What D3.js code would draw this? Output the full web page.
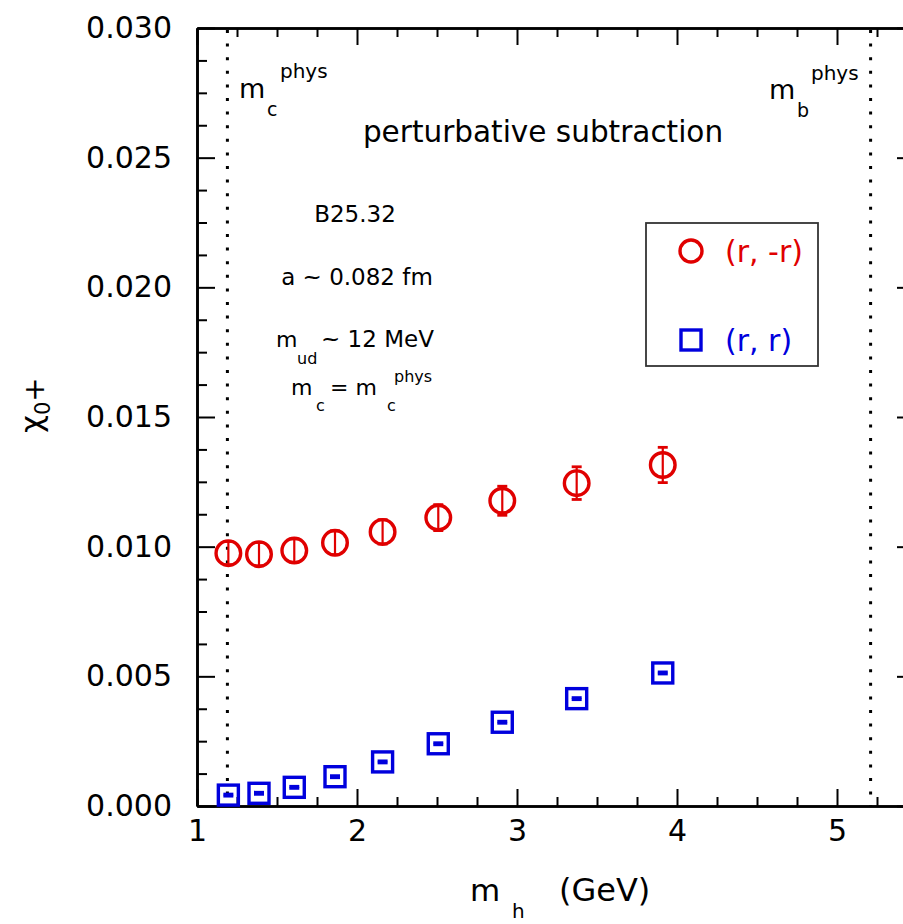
<!DOCTYPE html>
<html><head><meta charset="utf-8">
<script src="https://cdn.jsdelivr.net/npm/d3@7"></script>
<style>
html,body{margin:0;padding:0;background:#fff;}
text{font-family:"DejaVu Sans",sans-serif;fill:#000;}
</style></head>
<body>
<svg id="c" width="903" height="924"></svg>
<script>
// ---- data ----
const mh = [1.196, 1.3875, 1.608, 1.8625, 2.16, 2.508, 2.908, 3.373, 3.911];
const chiRminusR = [0.00975, 0.00971, 0.00985, 0.01015, 0.01057, 0.01112, 0.01177, 0.01245, 0.01315];
const errRminusR = [0.00045, 0.00045, 0.00045, 0.00046, 0.00047, 0.0005, 0.00056, 0.00063, 0.00068];
const chiRR = [0.00042, 0.00049, 0.00072, 0.00113, 0.0017, 0.0024, 0.00323, 0.00414, 0.00513];
const errRR = [0.00004, 0.00004, 0.00004, 0.00004, 0.00004, 0.00004, 0.00004, 0.00004, 0.00004];
const xMajor = [1, 2, 3, 4, 5];
const yMajor = [0, 0.005, 0.01, 0.015, 0.02, 0.025, 0.03];
const yTickLabels = ["0.000", "0.005", "0.010", "0.015", "0.020", "0.025", "0.030"];
const mcPhys = 1.19, mbPhys = 5.21;
const legendLabels = ["(r, -r)", "(r, r)"];
const seriesColors = ["#e00000", "#0000dd"];

// ---- layout ----
const L = 197, R = 917, T = 28, B = 806;
const x = d3.scaleLinear().domain([1, 5.5]).range([L, R]);
const y = d3.scaleLinear().domain([0, 0.03]).range([B, T]);
const svg = d3.select("#c");

const xMinor = d3.range(1, 5.51, 0.25).filter(v => Math.abs(v - Math.round(v)) > 1e-6);
const yMinor = d3.range(0, 0.03001, 0.00125).filter(v => Math.abs(v / 0.005 - Math.round(v / 0.005)) > 1e-6);

function styleAxis(g) {
  g.selectAll("path.domain").attr("stroke", "#000").attr("stroke-width", 2.6);
  g.selectAll(".tick line").attr("stroke", "#000").attr("stroke-width", 2);
  g.selectAll(".tick text").style("font-family", '"DejaVu Sans",sans-serif').style("font-size", "30px").attr("fill", "#000");
}

// bottom
svg.append("g").attr("transform", `translate(0,${B})`)
  .call(d3.axisBottom(x).tickValues(xMinor).tickFormat("").tickSizeInner(-9).tickSizeOuter(0)).call(styleAxis);
svg.append("g").attr("transform", `translate(0,${B})`)
  .call(d3.axisBottom(x).tickValues(xMajor).tickFormat(d3.format("d")).tickSizeInner(-17).tickSizeOuter(0).tickPadding(14)).call(styleAxis);
// top
svg.append("g").attr("transform", `translate(0,${T})`)
  .call(d3.axisTop(x).tickValues(xMinor).tickFormat("").tickSizeInner(-9).tickSizeOuter(0)).call(styleAxis);
svg.append("g").attr("transform", `translate(0,${T})`)
  .call(d3.axisTop(x).tickValues(xMajor).tickFormat("").tickSizeInner(-17).tickSizeOuter(0)).call(styleAxis);
// left
svg.append("g").attr("transform", `translate(${L},0)`)
  .call(d3.axisLeft(y).tickValues(yMinor).tickFormat("").tickSizeInner(-10).tickSizeOuter(0)).call(styleAxis);
svg.append("g").attr("transform", `translate(${L},0)`)
  .call(d3.axisLeft(y).tickValues(yMajor).tickFormat((d, i) => yTickLabels[i]).tickSizeInner(-18).tickSizeOuter(0).tickPadding(25)).call(styleAxis);
// right
svg.append("g").attr("transform", `translate(${R},0)`)
  .call(d3.axisRight(y).tickValues(yMajor).tickFormat("").tickSizeInner(-20).tickSizeOuter(0)).call(styleAxis);

// dotted vertical lines
[mcPhys, mbPhys].forEach(v => {
  svg.append("line").attr("x1", x(v)).attr("x2", x(v)).attr("y1", T + 2).attr("y2", B)
    .attr("stroke", "#000").attr("stroke-width", 3).attr("stroke-dasharray", "3,10.6");
});

// error bars + markers
function errBars(vals, errs, color, capW) {
  const g = svg.append("g");
  mh.forEach((m, i) => {
    const cx = x(m), y0 = y(vals[i] - errs[i]), y1 = y(vals[i] + errs[i]);
    g.append("line").attr("x1", cx).attr("x2", cx).attr("y1", y0).attr("y2", y1).attr("stroke", color).attr("stroke-width", 2.2);
    [y0, y1].forEach(yy => g.append("line").attr("x1", cx - capW / 2).attr("x2", cx + capW / 2).attr("y1", yy).attr("y2", yy)
      .attr("stroke", color).attr("stroke-width", 2.8));
  });
}
errBars(chiRminusR, errRminusR, seriesColors[0], 10);
errBars(chiRR, errRR, seriesColors[1], 10);

svg.append("g").selectAll("circle").data(mh).join("circle")
  .attr("cx", d => x(d)).attr("cy", (d, i) => y(chiRminusR[i])).attr("r", 12.3)
  .attr("fill", "none").attr("stroke", seriesColors[0]).attr("stroke-width", 3.4);
svg.append("g").selectAll("rect").data(mh).join("rect")
  .attr("x", d => x(d) - 10).attr("y", (d, i) => y(chiRR[i]) - 10).attr("width", 20).attr("height", 20)
  .attr("fill", "none").attr("stroke", seriesColors[1]).attr("stroke-width", 3.4);

// legend
const lg = svg.append("g");
lg.append("rect").attr("x", 646).attr("y", 223).attr("width", 172).attr("height", 143)
  .attr("fill", "#fff").attr("stroke", "#333").attr("stroke-width", 1.8);
lg.append("circle").attr("cx", 691).attr("cy", 251).attr("r", 11).attr("fill", "none").attr("stroke", seriesColors[0]).attr("stroke-width", 3.4);
lg.append("rect").attr("x", 681).attr("y", 330).attr("width", 20).attr("height", 20).attr("fill", "none").attr("stroke", seriesColors[1]).attr("stroke-width", 3.4);
lg.append("text").attr("x", 725).attr("y", 262).style("font-size", "30px").style("fill", seriesColors[0]).text(legendLabels[0]);
lg.append("text").attr("x", 725).attr("y", 351).style("font-size", "30px").style("fill", seriesColors[1]).text(legendLabels[1]);

// annotations
function txt(xx, yy, s, size, anchor) {
  return svg.append("text").attr("x", xx).attr("y", yy).style("font-size", size + "px").attr("text-anchor", anchor || "start").text(s);
}
txt(543, 142, "perturbative subtraction", 29.5, "middle");
// m_c^phys
txt(239, 98, "m", 27); txt(267, 116, "c", 19); txt(280, 78, "phys", 20);
// m_b^phys
txt(769, 99, "m", 27); txt(797, 117, "b", 19); txt(811, 80, "phys", 20);
txt(355, 222, "B25.32", 23, "middle");
txt(357, 285, "a ~ 0.082 fm", 23, "middle");
txt(276, 347, "m", 22); txt(297, 364, "ud", 16); txt(321, 347, "~ 12 MeV", 23);
txt(291, 395, "m", 22); txt(316, 411, "c", 16); txt(330, 395, "= m", 22); txt(387, 411, "c", 16); txt(394, 382, "phys", 16);

// axis titles
txt(470, 901, "m", 31); txt(512, 918, "h", 20); txt(559, 901, "(GeV)", 32);
const yl = svg.append("text").attr("transform", "translate(42,433) rotate(-90)").style("font-size", "31px");
yl.append("tspan").text("χ");
yl.append("tspan").attr("dy", 8).style("font-size", "21px").text("0");
yl.append("tspan").attr("dy", -6).style("font-size", "29px").text("+");
</script>
</body></html>
